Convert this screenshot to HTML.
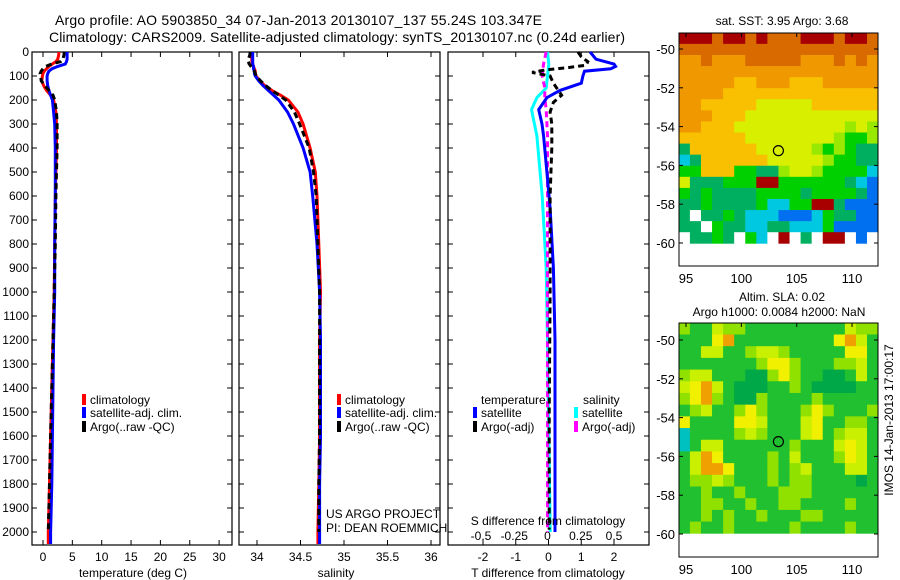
<!DOCTYPE html>
<html><head><meta charset="utf-8"><style>
html,body{margin:0;padding:0;background:#fff}
svg{display:block;font-family:"Liberation Sans",sans-serif}
text{fill:#000}
</style></head><body>
<svg id="fig" width="900" height="580" viewBox="0 0 900 580" xmlns="http://www.w3.org/2000/svg">
<text x="55" y="25" font-size="14" textLength="487">Argo profile: AO 5903850_34 07-Jan-2013 20130107_137 55.24S 103.347E</text>
<text x="49" y="42" font-size="14" textLength="576">Climatology: CARS2009. Satellite-adjusted climatology: synTS_20130107.nc (0.24d earlier)</text>
<g id="layer"></g>
</svg>
<script>
// ---- data ----
const depths = [0,10,20,30,40,50,60,70,80,90,100,120,140,160,180,200,250,300,400,500,600,800,1000,1200,1400,1600,1800,2000,2050];
const tempClim = [2.7,2.7,2.6,2.5,2.2,1.6,1.0,0.6,0.2,0,-0.1,-0.2,0.1,0.6,1.3,1.8,2.2,2.3,2.3,2.2,2.1,2.0,1.9,1.7,1.5,1.3,1.1,0.9,0.9];
const tempSat = [4.1,4.1,4.1,4.1,4.0,3.8,2.5,1.5,1.0,0.8,0.7,0.7,0.8,1.0,1.3,1.6,1.8,2.0,2.1,2.1,2.1,2.0,2.0,1.8,1.7,1.6,1.5,1.3,1.3];
const tempArgo = [3.6,3.6,3.5,3.4,3.0,1.5,0.5,0.0,-0.3,-0.5,-0.4,-0.3,0.3,1.0,1.7,2.0,2.3,2.4,2.4,2.3,2.2,2.1,1.9,1.7,1.5,1.3,1.1,0.9,null];
const salClim = [33.94,33.94,33.94,33.94,33.94,33.95,33.96,33.97,33.98,33.98,33.99,34.03,34.09,34.17,34.27,34.36,34.47,34.53,34.61,34.67,34.69,34.71,34.73,34.72,34.72,34.72,34.71,34.70,34.70];
const salSat = [33.95,33.95,33.95,33.95,33.95,33.95,33.96,33.96,33.97,33.97,33.98,34.02,34.07,34.13,34.19,34.25,34.35,34.42,34.53,34.61,34.64,34.69,34.72,34.73,34.73,34.73,34.72,34.72,34.72];
const salArgo = [33.92,33.92,33.91,33.90,33.90,33.91,33.93,33.95,33.97,33.98,33.99,34.04,34.10,34.17,34.25,34.33,34.43,34.49,34.60,34.65,34.68,34.70,34.72,34.72,34.72,34.72,34.71,34.71,null];
const diffDepthsT = [0,30,50,60,70,80,100,130,160,190,240,300,350,500,650,900,1200,1500,1800,2000];
const tDiffSat = [1.27,1.45,2.0,2.05,1.9,1.1,1.05,1.0,0.35,-0.05,-0.3,-0.2,-0.15,-0.05,0.05,0.15,0.2,0.2,0.2,0.2];
const diffDepthsArgo = [0,20,40,55,65,75,85,100,130,160,180,210,250,300,400,600,1000,1500,1990];
const tDiffArgo = [0.9,1.0,1.2,1.15,0.6,-0.1,-0.5,0.05,0.15,0.3,0.4,0.15,0.05,0.1,0.1,0.05,0.05,0.02,0.02];
const diffDepthsS = [0,50,100,150,190,240,350,600,900,1200,1600,2000];
const sDiffSat = [0,0.01,0.0,-0.01,-0.08,-0.12,-0.08,-0.04,-0.01,0.0,0.01,0.02];
const sDiffArgo = [-0.01,-0.03,-0.04,-0.02,-0.02,-0.01,0.0,0.0,0.0,0.0,0.0,0.0];
const depthTicks = [0,100,200,300,400,500,600,700,800,900,1000,1100,1200,1300,1400,1500,1600,1700,1800,1900,2000];
const tempTicks = [0,5,10,15,20,25,30];
const salTicks = [34,34.5,35,35.5,36];
const tdTicks = [-2,-1,0,1,2];
const sdTicks = [-0.5,-0.25,0,0.25,0.5];
const lonTicks = [95,100,105,110];
const latTicks = [-50,-52,-54,-56,-58,-60];
// SST map (rows top→bottom, cols 95..112 E)
const sstRows = [
"RRRORROROOORRRORRO","OOOOOOOOOOOOOOOOOO","ooOoooOOOOOoooOoOo","oooooooooooooooooo",
"oooooYYoooYYYooooo","ooooYYYYYYYYYYYYYY","ooYYYYYyyyyyYYYYYY","oooYYYyyyyyyyyyyyy",
"ooYYYyyyyyyyyyylyl","YYYYYYyyyyyyyylggl","GYYYYYYyyyyylglgGG","cGYYYYYYyyyyylggGG",
"ggYYYggGGlyylggggc","yGGGgggRRggggggGcb","gGgGGGGggggGggggGb","GGgGGGGgccggRRGbbb",
"GwGGgGcccbbbcgGGbb","GGwgGGccGGcccgbbbb","wGGgGwgcwRwGwRRwbw"];
const slaRows = [
"lggyllgggggggggyll","gggYogggggggggYoyg","ggyygglyylgggggYYg","ggggggglYYlgggllyg",
"lyygggddlYlggddgyg","yYoygdddgglgddddgg","lYolgddlgggglggggg","glygglYlggglYlgggl",
"YggggYYygggyYggllg","cgggglylgggyYglyyg","cgyygggggglgggyYyg","gyoYgggglgyggglYyg",
"gyooYggglglygggyyg","gllylggglgllggggdg","gglgglggglllgggggg","ggllgglggllgggglgg",
"gglglgglgggllggggg","glgglggggglgggglgg"];
const argoLon = 103.347, argoLat = -55.24;

// ---- helpers ----
const NS="http://www.w3.org/2000/svg";
const layer=document.getElementById('layer');
function mk(tag,attrs,parent){const e=document.createElementNS(NS,tag);for(const k in attrs)e.setAttribute(k,attrs[k]);(parent||layer).appendChild(e);return e;}
function txt(x,y,s,size,anchor,parent){const t=mk('text',{x:x,y:y,'font-size':size,'text-anchor':anchor||'start'},parent);t.textContent=s;return t;}
const yD = d => 52 + d*0.24;
const xT = v => 43 + v*5.87;
const xS = v => 257 + (v-34)*87;
const xTD = v => 548.5 + v*32.75;
const xSD = v => 547.5 + v*133;
function line(xs,ys,xf,color,dash,name){
  let p='';let pen=false;
  for(let i=0;i<xs.length;i++){ if(xs[i]==null){pen=false;continue;} p+=(pen?'L':'M')+xf(xs[i]).toFixed(1)+' '+yD(ys[i]).toFixed(1)+' '; pen=true;}
  const e=mk('path',{d:p,fill:'none',stroke:color,'stroke-width':3,'stroke-dasharray':dash||'none'});
  
  
  return e;
}
function panel(x0,x1,name){
  const r=mk('rect',{x:x0,y:52,width:x1-x0,height:493,fill:'none',stroke:'#000','stroke-width':1.2});
  
  
  depthTicks.forEach(d=>{mk('line',{x1:x0,x2:x0+5,y1:yD(d),y2:yD(d),stroke:'#000'});mk('line',{x1:x1-5,x2:x1,y1:yD(d),y2:yD(d),stroke:'#000'});});
}
function xticks(vals,f,y,labels){
  vals.forEach(v=>{mk('line',{x1:f(v),x2:f(v),y1:545,y2:540,stroke:'#000'});mk('line',{x1:f(v),x2:f(v),y1:52,y2:57,stroke:'#000'});
    if(labels){const t=txt(f(v),y,String(v),12,'middle');}});
}
function legendItem(x,y,color,label,name){
  mk('rect',{x:x,y:y-10,width:4,height:11,fill:color});
  const t=txt(x+8,y,label,12);
  
  
}

// ---- panel 1: temperature ----
panel(32,232,'temperature-panel');
depthTicks.forEach(d=>{const t=txt(29,yD(d)+4,String(d),12,'end');});
xticks(tempTicks,xT,561,true);
line(tempClim,depths,xT,'#f00',null,'temp-climatology-line');
line(tempSat,depths,xT,'#00f',null,'temp-satellite-line');
line(tempArgo,depths,xT,'#000','6,4','temp-argo-line');
legendItem(82,404,'#f00','climatology','legend-climatology');
legendItem(82,417,'#00f','satellite-adj. clim.','legend-satellite');
legendItem(82,431,'#000','Argo(..raw -QC)','legend-argo');
let t1=txt(133,577,'temperature (deg C)',12,'middle');


// ---- panel 2: salinity ----
panel(239,440,'salinity-panel');
xticks(salTicks,xS,561,true);
line(salClim,depths,xS,'#f00',null,'sal-climatology-line');
line(salSat,depths,xS,'#00f',null,'sal-satellite-line');
line(salArgo,depths,xS,'#000','6,4','sal-argo-line');
legendItem(337,404,'#f00','climatology','legend-climatology-2');
legendItem(337,417,'#00f','satellite-adj. clim.','legend-satellite-2');
legendItem(337,431,'#000','Argo(..raw -QC)','legend-argo-2');
let t2=txt(336,577,'salinity',12,'middle');

let u1=txt(326,518,'US ARGO PROJECT',12);

let u2=txt(326,532,'PI: DEAN ROEMMICH',12);


// ---- panel 3: differences ----
panel(448,649,'difference-panel');
xticks(tdTicks,xTD,561,true);
sdTicks.forEach(v=>{const t=txt(xSD(v),540,String(v),12,'middle');});
line(sDiffSat,diffDepthsS,xSD,'#0ff',null,'sdiff-satellite-line');
line(sDiffArgo,diffDepthsS,xSD,'#f0f','6,4','sdiff-argo-line');
line(tDiffSat,diffDepthsT,xTD,'#00f',null,'tdiff-satellite-line');
line(tDiffArgo,diffDepthsArgo,xTD,'#000','6,4','tdiff-argo-line');
let lt=txt(481,404,'temperature',12);
let ls=txt(583,404,'salinity',12);
legendItem(473,417,'#00f','satellite','legend-t-satellite');
legendItem(473,431,'#000','Argo(-adj)','legend-t-argo');
legendItem(574,417,'#0ff','satellite','legend-s-satellite');
legendItem(574,431,'#f0f','Argo(-adj)','legend-s-argo');
let sd=txt(548,525,'S difference from climatology',12,'middle');
let td=txt(548,577,'T difference from climatology',12,'middle');

// ---- maps ----
const sstCol={R:'#a80000',O:'#d86a00',o:'#f09800',Y:'#f8c000',y:'#d8f000',l:'#98e800',g:'#00d000',G:'#00b060',c:'#00c8e0',b:'#0070f0',w:'#ffffff'};
const slaCol={g:'#20c030',d:'#00a848',l:'#90e000',y:'#c8f000',Y:'#f0f000',o:'#f0a000',c:'#00c0c0'};
function map(top,bot,lat50,lat60,rows,cols,name,title1,title2,t1y){
  const g=mk('g',{});
  
  
  const yL = la => lat50 + (-50-la)*(lat60-lat50)/10;
  const xL = lo => 686 + (lo-95)*11.07;
  const latTop = -50 - (top-lat50)/((lat60-lat50)/10);
  const dLat = 10.85/rows.length;
  rows.forEach((r,j)=>{for(let i=0;i<r.length;i++){
    const y0=yL(latTop - j*dLat), y1=yL(latTop-(j+1)*dLat);
    mk('rect',{x:xL(94.37+i)-0.2,y:y0-0.2,width:11.5,height:y1-y0+0.4,fill:cols[r[i]]||'#fff'},g);}});
  mk('rect',{x:679,y:top,width:199,height:bot-top,fill:'none',stroke:'#000','stroke-width':1},g);
  lonTicks.forEach(v=>{mk('line',{x1:xL(v),x2:xL(v),y1:bot,y2:bot-4,stroke:'#000'},g);mk('line',{x1:xL(v),x2:xL(v),y1:top,y2:top+4,stroke:'#000'},g);
    const t=txt(xL(v),bot+17,String(v),13,'middle',g);});
  latTicks.forEach(v=>{mk('line',{x1:679,x2:683,y1:yL(v),y2:yL(v),stroke:'#000'},g);mk('line',{x1:874,x2:878,y1:yL(v),y2:yL(v),stroke:'#000'},g);
    const t=txt(675,yL(v)+5,String(v),13,'end',g);});
  const c=mk('circle',{cx:xL(argoLon),cy:yL(argoLat),r:5,fill:'none',stroke:'#000','stroke-width':1.2},g);
  
  
  const tt=txt(782,t1y,title1,12,'middle',g);
  if(title2){const t3=txt(779,t1y+15,title2,12,'middle',g);}
}
map(33,266,49,243,sstRows,sstCol,'sst-map','sat. SST: 3.95 Argo: 3.68',null,25);
mk('rect',{x:679.5,y:247,width:198,height:18.5,fill:'#fff'});
map(323,557,340,534,slaRows,slaCol,'sla-map','Altim. SLA: 0.02','Argo h1000: 0.0084 h2000: NaN',301);
mk('rect',{x:679.5,y:536,width:198,height:20.5,fill:'#fff'});
let im=txt(0,0,'IMOS 14-Jan-2013 17:00:17',12,'middle');
im.setAttribute('transform','translate(893,420) rotate(-90)');


</script>
</body></html>
